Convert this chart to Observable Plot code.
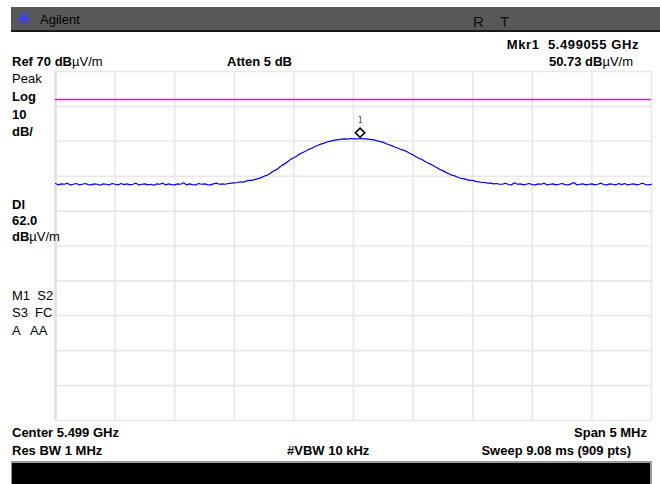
<!DOCTYPE html>
<html>
<head>
<meta charset="utf-8">
<script src="https://cdn.jsdelivr.net/npm/d3@7"></script>
<script src="https://cdn.jsdelivr.net/npm/@observablehq/plot@0.6"></script>
<style>
  html, body { margin: 0; padding: 0; background: #ffffff; }
  #wrap { position: relative; width: 660px; height: 484px; overflow: hidden; background: #fff;
          font-family: "Liberation Sans", Arial, sans-serif; color: #000; }
  #wrap > svg { position: absolute; left: 0; top: 0; }
  .t { position: absolute; font-size: 13px; line-height: 13px; white-space: pre; font-weight: bold; }
  .n { font-weight: normal; }
  .r { text-align: right; }
  #hdr { position: absolute; left: 11px; top: 7px; width: 649px; height: 23px; background: #585858;
         border-bottom: 2px solid #1a1a1a; }
  #ftr { position: absolute; left: 11px; top: 461px; width: 638px; height: 23px; background: #000;
         border-top: 2px solid #9a9a9a; border-left: 1px solid #9a9a9a; border-right: 2px solid #9a9a9a; }
  #logo { position: absolute; left: 17px; top: 11px; width: 14px; height: 14px; }
</style>
</head>
<body>
<div id="wrap">
  <div id="hdr"></div>
  <div id="ftr"></div>
  <div id="logo"><svg width="14" height="14" viewBox="0 0 14 14">
    <g stroke="#3c3cff" stroke-width="1.4" stroke-linecap="round">
      <line x1="7" y1="1" x2="7" y2="13"/><line x1="1" y1="7" x2="13" y2="7"/>
      <line x1="2.8" y1="2.8" x2="11.2" y2="11.2"/><line x1="2.8" y1="11.2" x2="11.2" y2="2.8"/>
    </g></svg></div>
</div>
<script>
// ---- data ----
const centerMHz = 5499.0;
const spanMHz = 5.0;
const startMHz = 5496.5;          // centre - span/2
const stepMHz = 0.025;            // displayed trace sample spacing
const refLevel = 70;              // dBµV/m, top of screen
const dbPerDiv = 10;
const displayLine = 62.0;         // Dl, dBµV/m
const markerFreqMHz = 5499.055;
const markerLevel = 50.73;

// trace amplitude, dBµV/m (201 samples across the span)
const traceLevels = [
  37.9,37.5,37.8,37.7,38.0,37.5,37.7,37.9,37.5,37.7,37.9,37.6,37.5,37.8,37.7,37.4,37.8,37.7,37.5,37.9,
  37.7,37.5,37.9,37.6,37.8,37.5,37.7,38.0,37.5,37.7,37.8,37.5,37.7,37.4,37.8,37.7,38.0,37.5,37.8,37.6,
  37.5,37.8,37.7,38.1,37.5,37.8,37.6,37.5,37.9,37.7,37.8,37.6,37.5,37.8,38.0,37.7,37.8,37.7,37.9,38.0,
  38.1,38.2,38.4,38.3,38.6,38.8,38.8,39.1,39.3,39.6,40.0,40.3,40.8,41.4,41.8,42.4,43.1,43.6,44.2,44.9,
  45.3,45.8,46.4,46.8,47.2,47.7,48.0,48.5,48.8,49.2,49.4,49.8,50.0,50.2,50.4,50.5,50.6,50.7,50.6,50.8,
  50.7,50.7,50.73,50.8,50.7,50.6,50.5,50.4,50.1,49.9,49.7,49.3,49.0,48.7,48.3,48.0,47.6,47.4,47.0,46.5,
  46.1,45.6,45.1,44.8,44.2,43.8,43.4,42.9,42.4,41.9,41.6,41.1,40.7,40.3,40.1,39.7,39.4,39.3,39.0,38.8,
  38.8,38.5,38.4,38.2,38.2,38.0,38.0,37.8,37.9,37.7,
  37.7,38.0,37.6,37.5,38.1,37.7,37.8,37.5,37.7,37.9,
  37.6,37.5,37.8,37.7,38.0,37.5,37.7,37.8,37.5,37.7,
  37.9,37.6,37.5,37.8,38.2,37.5,37.7,37.8,37.5,37.7,
  37.8,37.5,37.7,38.0,37.6,37.5,37.8,37.7,37.5,37.9,
  37.6,37.9,37.5,37.7,37.8,37.5,37.7,38.0,37.6,37.5,
  37.7
];

// graticule: 10 divisions each way
const freqGrid = [5496.5, 5497.0, 5497.5, 5498.0, 5498.5, 5499.0, 5499.5, 5500.0, 5500.5, 5501.0, 5501.5];
const levelGrid = [-30, -20, -10, 0, 10, 20, 30, 40, 50, 60, 70];

// annotation texts
const headerText = "Agilent";
const markerReadout = "Mkr1  5.499055 GHz";
const refText = "Ref 70 dB";
const attenText = "Atten 5 dB";
const mkrLevelText = "50.73 dB";
const unitText = "µV/m";
const sideLabels = [
  {txt: "Peak", bold: false, base: 83},
  {txt: "Log", bold: true, base: 101},
  {txt: "10", bold: true, base: 119},
  {txt: "dB/", bold: true, base: 136},
  {txt: "Dl", bold: true, base: 209},
  {txt: "62.0", bold: true, base: 225},
  {txt: "M1  S2", bold: false, base: 300},
  {txt: "S3  FC", bold: false, base: 317},
  {txt: "A   AA", bold: false, base: 335}
];

// ---- build ----
const trace = traceLevels.map((v, i) => ({f: startMHz + i * stepMHz, v}));

const plot = Plot.plot({
  width: 660,
  height: 484,
  marginLeft: 55,
  marginRight: 9,
  marginTop: 71,
  marginBottom: 64,
  style: {background: "transparent", overflow: "visible"},
  x: {domain: [startMHz, startMHz + spanMHz], axis: null},
  y: {domain: [refLevel - 10 * dbPerDiv, refLevel], axis: null},
  marks: [
    Plot.ruleX(freqGrid, {stroke: "#e8e8e8", strokeWidth: 1.6}),
    Plot.ruleY(levelGrid, {stroke: "#e8e8e8", strokeWidth: 1.6}),
    Plot.ruleX([startMHz], {stroke: "#e0e0e0", strokeWidth: 2.5}),
    Plot.ruleY([displayLine], {stroke: "#ff00ff", strokeWidth: 1.5}),
    Plot.line(trace, {x: "f", y: "v", stroke: "#0000ff", strokeWidth: 1.2}),
    Plot.dot([{f: markerFreqMHz, v: markerLevel}], {x: "f", y: "v", dy: -6, symbol: "diamond2", r: 4.2,
      stroke: "#000", strokeWidth: 1.6, fill: "#fff"}),
    Plot.text([{f: markerFreqMHz, v: markerLevel}], {x: "f", y: "v", dy: -18, text: () => "1",
      fontSize: 8, fill: "#444", fontFamily: "DejaVu Sans Mono, monospace"})
  ]
});

const wrap = document.getElementById("wrap");
wrap.insertBefore(plot, document.getElementById("hdr"));

function addText(html, opts) {
  const d = document.createElement("div");
  d.className = "t" + (opts.normal ? " n" : "") + (opts.right ? " r" : "");
  d.innerHTML = html;
  const top = opts.base - 11;
  d.style.top = top + "px";
  if (opts.right) { d.style.right = (660 - opts.x) + "px"; } else { d.style.left = opts.x + "px"; }
  if (opts.size) { d.style.fontSize = opts.size + "px"; }
  if (opts.color) { d.style.color = opts.color; }
  if (opts.ls) { d.style.letterSpacing = opts.ls + "px"; }
  wrap.appendChild(d);
  return d;
}
const unitSpan = `<span class="n">${unitText}</span>`;

// header
addText(headerText, {x: 40, base: 24, normal: true, size: 13});
addText("R", {x: 473, base: 26, normal: true, size: 15, color: "#111"});
addText("T", {x: 500, base: 26, normal: true, size: 15, color: "#111"});

// top readouts
addText(markerReadout, {x: 639, base: 49, right: true, ls: 0.6});
addText(refText + unitSpan, {x: 12, base: 66});
addText(attenText, {x: 227, base: 66});
addText(mkrLevelText + unitSpan, {x: 633, base: 66, right: true});

// side labels
for (const s of sideLabels) addText(s.txt, {x: 12, base: s.base, normal: !s.bold});
addText("dB" + unitSpan, {x: 12, base: 241});

// bottom readouts
addText("Center 5.499 GHz", {x: 12, base: 437});
addText("Span 5 MHz", {x: 647, base: 437, right: true});
addText("Res BW 1 MHz", {x: 12, base: 455});
addText("#VBW 10 kHz", {x: 287, base: 455});
addText("Sweep 9.08 ms (909 pts)", {x: 631, base: 455, right: true});
</script>
</body>
</html>
